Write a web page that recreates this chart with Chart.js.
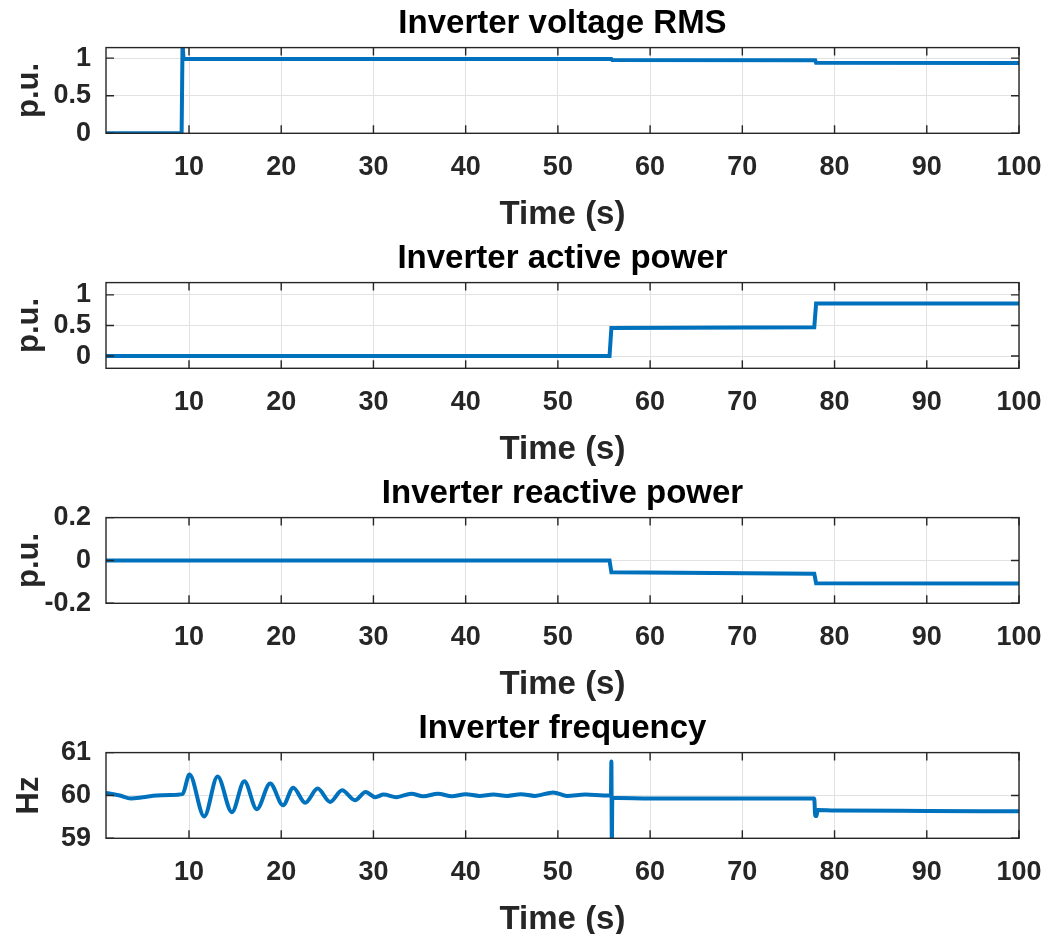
<!DOCTYPE html>
<html>
<head>
<meta charset="utf-8">
<script src="https://cdn.jsdelivr.net/npm/chart.js@4.4.1/dist/chart.umd.min.js"></script>
<style>
html,body{margin:0;padding:0;background:#fff;overflow:hidden;width:1048px;height:934px;}
.panel{position:absolute;left:0;width:1048px;height:235px;}
canvas{display:block;}
</style>
</head>
<body>
<div class="panel" style="top:0px"><canvas id="c0" width="1048" height="235"></canvas></div>
<div class="panel" style="top:235px"><canvas id="c1" width="1048" height="235"></canvas></div>
<div class="panel" style="top:470px"><canvas id="c2" width="1048" height="235"></canvas></div>
<div class="panel" style="top:705px"><canvas id="c3" width="1048" height="235"></canvas></div>
<script>
// ---------- data ----------
const xTickValues = [10, 20, 30, 40, 50, 60, 70, 80, 90, 100];

const voltTime = [1, 9.2, 9.3, 9.4, 9.55, 55.8, 55.9, 77.9, 78.0, 100];
const voltRMS  = [0, 0, 1.2, 1.0, 0.99, 0.988, 0.975, 0.972, 0.937, 0.935];
const voltTicks = [0, 0.5, 1];

const activeTime = [1, 55.6, 55.8, 77.8, 78.0, 100];
const activePow  = [0, 0, 0.46, 0.47, 0.86, 0.86];
const activeTicks = [0, 0.5, 1];

const reactTime = [1, 55.6, 55.8, 77.8, 78.0, 100];
const reactPow  = [0, 0, -0.055, -0.062, -0.107, -0.108];
const reactTicks = [-0.2, 0, 0.2];

const freqTime = [1, 2.5, 3.7, 5, 6.5, 8, 9.3, 10.05, 11.65, 13.1, 14.65, 16.0, 17.35, 18.8, 20.2, 21.3,
  22.6, 23.95, 25.3, 26.6, 28.0, 29.15, 30.2, 31.1, 32.5, 34.1, 35.4, 37.0, 38.5, 40, 41.5, 43, 44.5,
  46, 47.5, 49.5, 51, 53, 55.0, 55.75, 55.8, 55.85, 55.9, 56.5, 60, 70, 77.8, 77.9, 78.05, 78.15, 80, 90, 100];
const freqHz = [60.06, 60.0, 59.93, 59.96, 60.0, 60.01, 60.03, 60.49, 59.51, 60.44, 59.61, 60.33, 59.68, 60.28, 59.77, 60.18,
  59.83, 60.16, 59.85, 60.12, 59.89, 60.08, 59.96, 60.02, 59.96, 60.04, 59.98, 60.04, 59.98, 60.03, 59.99, 60.02, 59.99,
  60.03, 59.99, 60.07, 59.99, 60.02, 60.0, 60.0, 60.79, 58.8, 59.94, 59.94, 59.93, 59.93, 59.93, 59.52, 59.52, 59.66, 59.65, 59.64, 59.63];
const freqTicks = [59, 60, 61];

// ---------- rendering ----------
const FONT = '"Liberation Sans", Arial, Helvetica, sans-serif';
const LINE = '#0072BD';
const AXIS = '#262626';

const boxPlugin = {
  id: 'matlabBox',
  afterDatasetsDraw(chart) {
    const {ctx, chartArea: a, scales} = chart;
    const tl = 8;
    ctx.save();
    ctx.strokeStyle = AXIS;
    ctx.lineWidth = 1.4;
    ctx.beginPath();
    scales.x.ticks.forEach(t => {
      const px = scales.x.getPixelForValue(t.value);
      ctx.moveTo(px, a.bottom); ctx.lineTo(px, a.bottom - tl);
      ctx.moveTo(px, a.top); ctx.lineTo(px, a.top + tl);
    });
    scales.y.ticks.forEach(t => {
      const py = scales.y.getPixelForValue(t.value);
      ctx.moveTo(a.left, py); ctx.lineTo(a.left + tl, py);
      ctx.moveTo(a.right, py); ctx.lineTo(a.right - tl, py);
    });
    ctx.stroke();
    ctx.strokeRect(a.left, a.top, a.right - a.left, a.bottom - a.top);
    ctx.restore();
  }
};

function makeChart(id, title, ylabel, times, values, ymin, ymax, yTicks, smooth) {
  const pts = times.map((t, i) => ({x: t, y: values[i]}));
  return new Chart(document.getElementById(id), {
    type: 'line',
    data: {datasets: [{
      data: pts,
      borderColor: LINE,
      borderWidth: 4,
      pointRadius: 0,
      tension: 0,
      cubicInterpolationMode: smooth ? 'monotone' : 'default',
      fill: false
    }]},
    options: {
      responsive: false,
      animation: false,
      devicePixelRatio: 1,
      layout: {padding: {left: 0, right: 29, top: 0, bottom: 0}},
      plugins: {
        legend: {display: false},
        tooltip: {enabled: false},
        title: {
          display: true, text: title, color: '#000', fullSize: false,
          font: {family: FONT, size: 33, weight: 'bold'},
          padding: {top: 4, bottom: 4}
        }
      },
      scales: {
        x: {
          type: 'linear', min: 1, max: 100,
          afterBuildTicks: s => { s.ticks = xTickValues.map(v => ({value: v})); },
          afterFit: s => { s.height = 101.7; s.paddingLeft = 0; s.paddingRight = 0; },
          grid: {color: '#e2e2e2', lineWidth: 1, drawTicks: false},
          border: {display: false},
          ticks: {
            font: {family: FONT, size: 27, weight: 'bold'}, color: AXIS,
            padding: 18, maxRotation: 0, autoSkip: false,
            callback: v => String(v)
          },
          title: {
            display: true, text: 'Time (s)', color: AXIS,
            font: {family: FONT, size: 33, weight: 'bold'},
            padding: {top: 4, bottom: 0}
          }
        },
        y: {
          min: ymin, max: ymax,
          afterBuildTicks: s => { s.ticks = yTicks.map(v => ({value: v})); },
          afterFit: s => { s.width = 106; s.paddingTop = 0; s.paddingBottom = 0; },
          grid: {color: '#e2e2e2', lineWidth: 1, drawTicks: false},
          border: {display: false},
          ticks: {
            font: {family: FONT, size: 27, weight: 'bold'}, color: AXIS,
            padding: 15, autoSkip: false,
            callback: v => String(v)
          },
          title: {
            display: true, text: ylabel, color: AXIS,
            font: {family: FONT, size: 31, weight: 'bold'},
            padding: {top: 11, bottom: 0}
          }
        }
      }
    },
    plugins: [boxPlugin]
  });
}

makeChart('c0', 'Inverter voltage RMS', 'p.u.', voltTime, voltRMS, 0, 1.14, voltTicks, false);
makeChart('c1', 'Inverter active power', 'p.u.', activeTime, activePow, -0.2, 1.2, activeTicks, false);
makeChart('c2', 'Inverter reactive power', 'p.u.', reactTime, reactPow, -0.2, 0.2, reactTicks, false);
makeChart('c3', 'Inverter frequency', 'Hz', freqTime, freqHz, 59, 61, freqTicks, true);
</script>
</body>
</html>
